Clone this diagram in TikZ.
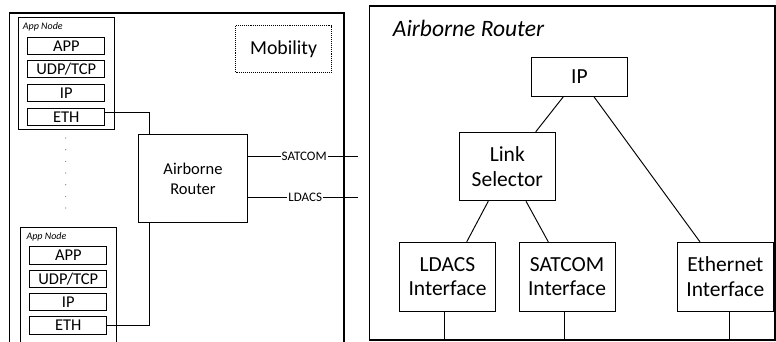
\documentclass[tikz,border=0pt]{standalone}
\usepackage{fontspec}
\setmainfont{Carlito}
\begin{document}
\begin{tikzpicture}[x=1pt,y=-1pt,
  box/.style={draw, line width=0.95pt, inner sep=0pt, align=center},
  outer/.style={draw, line width=1.1pt, inner sep=0pt},
  layer/.style={box, minimum width=77pt, minimum height=17.4pt, font=\fontsize{16.5}{19}\selectfont},
  appnode/.style={box, minimum width=96pt},
  nodelbl/.style={inner sep=0pt, anchor=base west, font=\itshape\fontsize{10}{12}\selectfont},
  rtbox/.style={box, minimum width=96pt, font=\fontsize{21.5}{24.5}\selectfont},
  lnk/.style={line width=0.95pt},
  lbl/.style={fill=white, inner sep=1pt, font=\fontsize{13}{15}\selectfont}]
\clip (0,0) rectangle (776,341);
% outer frames
\node[outer, minimum width=334.5pt, minimum height=335pt] (lbox) at (176.75,180.5) {};
\node[outer, minimum width=405.5pt, minimum height=334pt] (rbox) at (572.25,173) {};
% app node 1
\node[appnode, minimum height=112pt] (an1) at (66.3,73.3) {};
\node[nodelbl] (an1l) at (22.7,29.7) {App Node};
\node[layer] (app1) at (66.3,46) {APP};
\node[layer] (udp1) at (66.3,68.8) {UDP/TCP};
\node[layer] (ip1) at (66.3,93) {IP};
\node[layer] (eth1) at (66.3,117.2) {ETH};
% app node 2
\node[appnode, minimum height=120pt] (an2) at (68.7,287.7) {};
\node[nodelbl] (an2l) at (26.3,239.8) {App Node};
\node[layer] (app2) at (68.3,255.5) {APP};
\node[layer] (udp2) at (68.3,278.8) {UDP/TCP};
\node[layer] (ip2) at (68.3,302.2) {IP};
\node[layer] (eth2) at (68.3,325.5) {ETH};
% dots
\foreach \yy in {138,149.7,161.4,173,184.7,196.4,208}
  \fill[black!55] (65.7,\yy) circle (0.6);
% mobility
\node[box, densely dotted, minimum width=96.2pt, minimum height=46.8pt, font=\fontsize{19.8}{23}\selectfont] (mob) at (283.6,48.9) {Mobility};
% router
\node[box, minimum width=108.6pt, minimum height=88pt, font=\fontsize{16.5}{19.5}\selectfont] (router) at (193,178.7) {Airborne\\Router};
\draw[lnk] ([yshift=4.5pt]eth1.east) -| ([xshift=-44pt]router.north);
\draw[lnk] (eth2.east) -| ([xshift=-44pt]router.south);
\coordinate (satend) at (358.3,156);
\coordinate (ldend) at (358.3,197);
\draw[lnk] (router.east |- satend) -- node[lbl, pos=0.51] {SATCOM} (satend);
\draw[lnk] (router.east |- ldend) -- node[lbl, pos=0.52] {LDACS} (ldend);
% right side
\node[inner sep=0pt, anchor=base west, font=\itshape\fontsize{23.5}{27}\selectfont] (title) at (392.7,36.7) {Airborne Router};
\node[rtbox, minimum height=38.6pt] (ip) at (579.5,77) {IP};
\node[rtbox, minimum height=68.4pt] (ls) at (507.3,166.5) {Link\\Selector};
\node[rtbox, minimum height=68.7pt] (ldi) at (447.5,276.7) {LDACS\\Interface};
\node[rtbox, minimum height=68.7pt] (sati) at (567,276.7) {SATCOM\\Interface};
\node[rtbox, minimum height=68.7pt] (ethi) at (725.3,276.7) {Ethernet\\Interface};
\draw[lnk] ([xshift=-16.2pt]ip.south) -- ([xshift=28.4pt]ls.north);
\draw[lnk] ([xshift=14.5pt]ip.south) -- ([xshift=-25.3pt]ethi.north);
\draw[lnk] ([xshift=-19pt]ls.south) -- ([xshift=19.2pt]ldi.north);
\draw[lnk] ([xshift=18.7pt]ls.south) -- ([xshift=-18.7pt]sati.north);
\draw[lnk] ([xshift=-3.2pt]ldi.south) -- ([xshift=-3.2pt]ldi.south |- rbox.south);
\draw[lnk] ([xshift=-3pt]sati.south) -- ([xshift=-3pt]sati.south |- rbox.south);
\draw[lnk] ([xshift=3.7pt]ethi.south) -- ([xshift=3.7pt]ethi.south |- rbox.south);
\end{tikzpicture}
\end{document}
